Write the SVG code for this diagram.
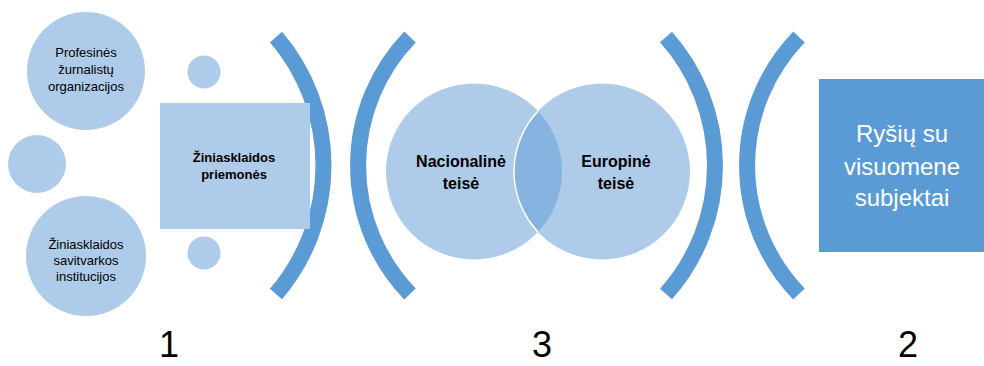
<svg xmlns="http://www.w3.org/2000/svg" width="984" height="366" viewBox="0 0 984 366">
<defs>
<style>
.light{fill:#aecce9}
.dark{fill:#5b9bd5}
.arc{fill:none;stroke:#5b9bd5;stroke-width:16;stroke-linecap:butt}
.t{font-family:"Liberation Sans",Arial,sans-serif;text-anchor:middle;fill:#000}
.s{font-size:13px}
.b{font-size:13px;font-weight:bold}
.v{font-size:16px;font-weight:bold}
.w{font-size:24px;fill:#fff}
.n{font-size:36px}
</style>
<clipPath id="clipL"><circle cx="474" cy="171.5" r="88"/></clipPath>
</defs>
<g id="connectors">
<path class="arc" d="M276,37 A197.6,197.6 0 0 1 276,294"/>
<path class="arc" d="M410,37 A185,185 0 0 0 410,294"/>
<path class="arc" d="M666,37 A193,193 0 0 1 666,294"/>
<path class="arc" d="M799,37 A185,185 0 0 0 799,294"/>
</g>
<g id="node-profesines">
<circle class="light" cx="86" cy="71" r="59"/>
<text class="t s" x="86" y="57">Profesinės</text>
<text class="t s" x="86" y="74">žurnalistų</text>
<text class="t s" x="86" y="91">organizacijos</text>
</g>
<g id="node-small-left"><circle class="light" cx="37" cy="164" r="29"/></g>
<g id="node-savitvarkos">
<circle class="light" cx="86" cy="256" r="60"/>
<text class="t s" x="86" y="249">Žiniasklaidos</text>
<text class="t s" x="86" y="265">savitvarkos</text>
<text class="t s" x="86" y="281">institucijos</text>
</g>
<g id="node-small-top"><circle class="light" cx="204" cy="72" r="16.5"/></g>
<g id="node-small-bottom"><circle class="light" cx="204" cy="253" r="16.5"/></g>
<g id="node-priemones">
<rect class="light" x="160" y="103" width="150" height="126"/>
<text class="t b" x="234" y="162">Žiniasklaidos</text>
<text class="t b" x="234" y="179">priemonės</text>
</g>
<g id="node-nacionaline">
<circle class="light" cx="474" cy="171.5" r="88"/>
</g>
<g id="node-europine">
<circle class="light" cx="602" cy="171.5" r="88"/>
<circle cx="602" cy="171.5" r="88" fill="#86b3df" clip-path="url(#clipL)"/>
<circle cx="602" cy="171.5" r="88" fill="none" stroke="#fff" stroke-width="1.5" clip-path="url(#clipL)"/>
<text class="t v" x="616" y="167">Europinė</text>
<text class="t v" x="616" y="189">teisė</text>
</g>
<g id="label-nacionaline">
<text class="t v" x="461" y="167">Nacionalinė</text>
<text class="t v" x="461" y="189">teisė</text>
</g>
<g id="node-rysiu">
<rect class="dark" x="819" y="79" width="165" height="173"/>
<text class="t w" x="902" y="142">Ryšių su</text>
<text class="t w" x="902" y="175">visuomene</text>
<text class="t w" x="902" y="206">subjektai</text>
</g>
<g id="numbers">
<text class="t n" x="169" y="357">1</text>
<text class="t n" x="542" y="357">3</text>
<text class="t n" x="908" y="357">2</text>
</g>
</svg>
